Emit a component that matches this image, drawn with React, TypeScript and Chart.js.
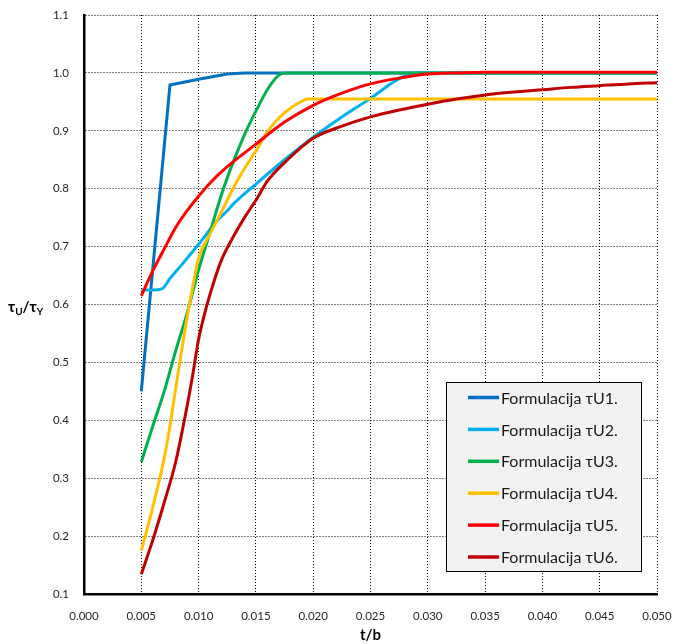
import React, { useEffect, useRef } from "react";
import { Chart, registerables } from "chart.js";

Chart.register(...registerables);

// ---- data (t/b, τU/τY) ----
const u1X = [0.005, 0.0075, 0.01, 0.0125, 0.014, 0.02, 0.03, 0.04, 0.05];
const u1Y = [0.45, 0.979, 0.989, 0.998, 1.0, 1.0, 1.0, 1.0, 1.0];

const u2X = [0.005, 0.006, 0.0068, 0.0075, 0.0085, 0.01, 0.0115, 0.0125, 0.013, 0.015, 0.0175, 0.02, 0.0225, 0.025, 0.0275, 0.029, 0.03, 0.035, 0.04, 0.045, 0.05];
const u2Y = [0.625, 0.625, 0.627, 0.645, 0.668, 0.704, 0.742, 0.762, 0.773, 0.808, 0.85, 0.889, 0.924, 0.956, 0.99, 1.0, 1.0, 1.0, 1.0, 1.0, 1.0];

const u3X = [0.005, 0.006, 0.007, 0.008, 0.009, 0.01, 0.011, 0.012, 0.013, 0.014, 0.015, 0.016, 0.017, 0.0175, 0.02, 0.025, 0.03, 0.035, 0.04, 0.045, 0.05];
const u3Y = [0.328, 0.39, 0.45, 0.52, 0.585, 0.66, 0.725, 0.79, 0.845, 0.893, 0.934, 0.971, 0.996, 1.0, 1.0, 1.0, 1.0, 1.0, 1.0, 1.0, 1.0];

const u4X = [0.005, 0.006, 0.007, 0.0075, 0.008, 0.009, 0.0095, 0.01, 0.011, 0.012, 0.013, 0.014, 0.015, 0.016, 0.017, 0.018, 0.019, 0.0195, 0.025, 0.03, 0.035, 0.04, 0.045, 0.05];
const u4Y = [0.175, 0.25, 0.335, 0.39, 0.455, 0.578, 0.632, 0.68, 0.722, 0.76, 0.8, 0.835, 0.865, 0.898, 0.922, 0.939, 0.951, 0.955, 0.955, 0.955, 0.955, 0.955, 0.955, 0.955];

const u5X = [0.005, 0.006, 0.007, 0.008, 0.009, 0.01, 0.011, 0.0125, 0.015, 0.0175, 0.02, 0.0225, 0.025, 0.0275, 0.03, 0.0325, 0.035, 0.04, 0.045, 0.05];
const u5Y = [0.615, 0.658, 0.696, 0.733, 0.762, 0.787, 0.81, 0.838, 0.877, 0.915, 0.944, 0.965, 0.981, 0.991, 0.998, 1.0, 1.001, 1.001, 1.001, 1.001];

const u6X = [0.005, 0.006, 0.007, 0.008, 0.009, 0.0095, 0.01, 0.0105, 0.011, 0.012, 0.013, 0.014, 0.015, 0.016, 0.0175, 0.02, 0.0225, 0.025, 0.0275, 0.03, 0.0325, 0.035, 0.0375, 0.04, 0.0425, 0.045, 0.0475, 0.05];
const u6Y = [0.134, 0.193, 0.258, 0.328, 0.425, 0.48, 0.54, 0.582, 0.618, 0.677, 0.716, 0.75, 0.78, 0.813, 0.845, 0.887, 0.908, 0.924, 0.936, 0.946, 0.955, 0.962, 0.967, 0.971, 0.975, 0.978, 0.981, 0.983];

const seriesLabels = ["Formulacija τU1.", "Formulacija τU2.", "Formulacija τU3.", "Formulacija τU4.", "Formulacija τU5.", "Formulacija τU6."];
const seriesColors = ["#0070C0", "#00B0F0", "#00B050", "#FFC000", "#FF0000", "#C00000"];
const seriesX = [u1X, u2X, u3X, u4X, u5X, u6X];
const seriesY = [u1Y, u2Y, u3Y, u4Y, u5Y, u6Y];

const xMin = 0, xMax = 0.05, xStep = 0.005;
const yMin = 0.1, yMax = 1.1, yStep = 0.1;
const xTitle = "t/b";

const FONT = "Lato, 'Open Sans', sans-serif";

const titlesPlugin = {
  id: "titles",
  afterDraw(chart: any) {
    const ctx = chart.ctx as CanvasRenderingContext2D;
    const ca = chart.chartArea;
    ctx.save();
    ctx.fillStyle = "#000";
    ctx.font = `bold 15px ${FONT}`;
    ctx.textAlign = "center";
    ctx.textBaseline = "alphabetic";
    ctx.fillText(xTitle, (ca.left + ca.right) / 2, 640);
    ctx.textAlign = "left";
    let x = 8;
    const base = 312;
    const parts: [string, boolean][] = [["τ", false], ["U", true], ["/", false], ["τ", false], ["Y", true]];
    for (const [t, sub] of parts) {
      ctx.font = sub ? `bold 10px ${FONT}` : `bold 15px ${FONT}`;
      ctx.fillText(t, x, sub ? base + 3 : base);
      x += ctx.measureText(t).width;
    }
    ctx.restore();
  },
};

const legendPlugin = {
  id: "boxLegend",
  afterDatasetsDraw(chart: any) {
    const ctx = chart.ctx as CanvasRenderingContext2D;
    const ca = chart.chartArea;
    const w = 195, h = 189;
    const x = Math.round(ca.right - 16 - w) + 0.5;
    const y = Math.round(ca.bottom - 23 - h) + 0.5;
    ctx.save();
    ctx.fillStyle = "#F2F2F2";
    ctx.fillRect(x, y, w, h);
    ctx.strokeStyle = "#000";
    ctx.lineWidth = 1;
    ctx.strokeRect(x, y, w, h);
    chart.data.datasets.forEach((ds: any, i: number) => {
      const cy = y + 15 + i * 31.9;
      ctx.strokeStyle = ds.borderColor;
      ctx.lineWidth = 3.5;
      ctx.beginPath();
      ctx.moveTo(x + 21.5, cy);
      ctx.lineTo(x + 52.5, cy);
      ctx.stroke();
      ctx.fillStyle = "#1a1a1a";
      ctx.font = `16px ${FONT}`;
      ctx.textAlign = "left";
      ctx.textBaseline = "middle";
      ctx.fillText(ds.label, x + 54.5, cy + 1);
    });
    ctx.restore();
  },
};

export default function App() {
  const ref = useRef<HTMLCanvasElement | null>(null);
  useEffect(() => {
    if (!ref.current) return;
    const datasets = seriesLabels.map((label, i) => ({
      label,
      data: seriesX[i].map((x, j) => ({ x, y: seriesY[i][j] })),
      borderColor: seriesColors[i],
      backgroundColor: seriesColors[i],
      borderWidth: 3,
      pointRadius: 0,
      fill: false,
      tension: 0,
      cubicInterpolationMode: i === 0 ? "default" : "monotone",
      order: seriesLabels.length - i,
    }));
    const chart = new Chart(ref.current, {
      type: "line",
      data: { datasets } as any,
      options: {
        responsive: false,
        animation: false,
        devicePixelRatio: 1,
        layout: { padding: { top: 15, right: 20, left: 0, bottom: 0 } },
        plugins: { legend: { display: false }, tooltip: { enabled: false } },
        scales: {
          x: {
            type: "linear",
            min: xMin,
            max: xMax,
            afterFit: (s: any) => { s.height = 50; s.paddingLeft = 0; s.paddingRight = 0; },
            ticks: {
              stepSize: xStep,
              padding: 15,
              color: "#262626",
              font: { family: FONT, size: 11.5 },
              callback: (v: any) => Number(v).toFixed(3),
            },
            grid: { color: "#000", lineWidth: 1, drawTicks: false },
            border: { display: true, color: "#000", width: 2.5, dash: [1, 2] },
          },
          y: {
            type: "linear",
            min: yMin,
            max: yMax,
            afterFit: (s: any) => { s.width = 84; s.paddingTop = 0; s.paddingBottom = 0; },
            ticks: {
              stepSize: yStep,
              padding: 15,
              color: "#262626",
              font: { family: FONT, size: 11.5 },
              callback: (v: any) => Number(v).toFixed(1),
            },
            grid: { color: "#000", lineWidth: 1, drawTicks: false },
            border: { display: true, color: "#000", width: 2.5, dash: [1, 2] },
          },
        },
      } as any,
      plugins: [legendPlugin, titlesPlugin],
    });
    return () => chart.destroy();
  }, []);
  return (
    <div style={{ position: "fixed", left: 0, top: 0, width: 677, height: 644, background: "#fff" }}>
      <canvas ref={ref} width={677} height={644} style={{ display: "block" }} />
    </div>
  );
}
